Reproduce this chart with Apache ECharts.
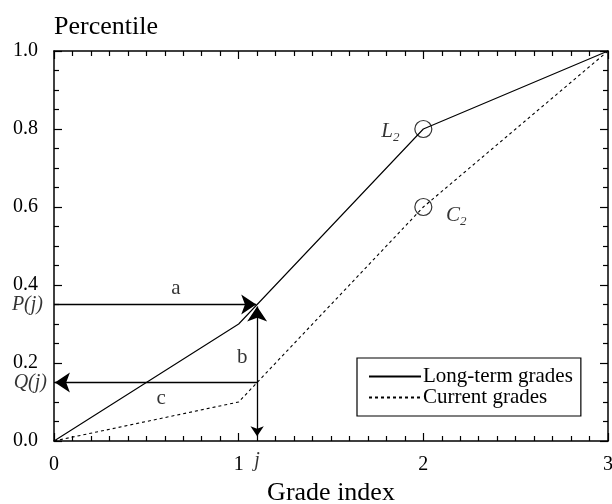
<!DOCTYPE html>
<html>
<head>
<meta charset="utf-8">
<script src="https://cdn.jsdelivr.net/npm/echarts@6/dist/echarts.min.js"></script>
<style>html,body{margin:0;padding:0;background:#fff}#c{width:612px;height:504px}</style>
</head>
<body>
<div id="c"></div>
<script>
// ---- data ----
var gradeIndex = [0, 1, 2, 3];
var longTerm = [0, 0.3, 0.8, 1.0];
var current = [0, 0.1, 0.6, 1.0];
var jValue = 1.1;
var pj = 0.35;
var qj = 0.15;
var circlePoints = [[2, 0.8], [2, 0.6]];
var yTicks = [0, 0.2, 0.4, 0.6, 0.8, 1.0];
var xTicks = [0, 1, 2, 3];
// arrows: [x1, y1, x2, y2, headAtStart, headAtEnd]
var arrows = [
  [0, pj, 1.095, pj, false, true],
  [jValue, qj, 0.005, qj, false, true],
  [jValue, 0.012, jValue, 0.345, true, true]
];
// text annotations: [x, y, text]
var letterLabels = [[0.66, 0.39, 'a'], [1.02, 0.215, 'b'], [0.58, 0.108, 'c']];

var FONT = "'Liberation Serif','Times New Roman',serif";
var chart = echarts.init(document.getElementById('c'));

function pairs(xs, ys) { return xs.map(function (x, i) { return [x, ys[i]]; }); }

var axisCommon = {
  min: 0,
  axisLine: { show: true, onZero: false, lineStyle: { color: '#000', width: 1.5 } },
  axisTick: { show: true, inside: true, length: 8, lineStyle: { color: '#000', width: 1.2 } },
  minorTick: { show: true, length: 5, lineStyle: { color: '#000', width: 1.2 } },
  splitLine: { show: false },
  minorSplitLine: { show: false }
};

function xAxisDef(pos, showLabels) {
  return Object.assign({}, axisCommon, {
    type: 'value', position: pos, max: 3, interval: 1,
    minorTick: Object.assign({}, axisCommon.minorTick, { splitNumber: 10 }),
    axisLabel: { show: showLabels, margin: 14, color: '#000', fontFamily: FONT, fontSize: 20,
      formatter: function (v) { return xTicks.indexOf(v) >= 0 ? String(v) : ''; } },
    name: showLabels ? 'Grade index' : '',
    nameLocation: 'middle', nameGap: 52,
    nameTextStyle: { color: '#000', fontFamily: FONT, fontSize: 26, verticalAlign: 'middle' }
  });
}
function yAxisDef(pos, showLabels) {
  return Object.assign({}, axisCommon, {
    type: 'value', position: pos, max: 1, interval: 0.2,
    minorTick: Object.assign({}, axisCommon.minorTick, { splitNumber: 4 }),
    axisLabel: { show: showLabels, margin: 16, color: '#000', fontFamily: FONT, fontSize: 20,
      formatter: function (v) { return v.toFixed(1); } },
    name: showLabels ? 'Percentile' : '',
    nameLocation: 'end', nameGap: 24,
    nameTextStyle: { color: '#000', fontFamily: FONT, fontSize: 26, align: 'left', verticalAlign: 'middle' }
  });
}

var arrowData = arrows.map(function (a) {
  return {
    coords: [[a[0], a[1]], [a[2], a[3]]],
    symbol: [a[4] ? 'arrow' : 'none', a[5] ? 'arrow' : 'none']
  };
});

var option = {
  animation: false,
  backgroundColor: '#fff',
  grid: { left: 54, right: 4, top: 51, bottom: 63, containLabel: false, outerBoundsMode: 'none' },
  xAxis: [xAxisDef('bottom', true), xAxisDef('top', false)],
  yAxis: [yAxisDef('left', true), yAxisDef('right', false)],
  legend: {
    orient: 'vertical', left: 357, top: 358,
    backgroundColor: '#fff',
    borderColor: '#000', borderWidth: 1.2, borderRadius: 0,
    padding: [8, 8, 8, 11],
    itemWidth: 52, itemHeight: 14, itemGap: 0,
    itemStyle: { opacity: 0 },
    textStyle: { color: '#000', fontFamily: FONT, fontSize: 21, lineHeight: 20, padding: [0, 0, 0, -3] },
    data: ['Long-term grades', 'Current grades']
  },
  series: [
    {
      name: 'Long-term grades', type: 'line', data: pairs(gradeIndex, longTerm),
      symbol: 'none', lineStyle: { color: '#000', width: 1.1, type: 'solid' },
      itemStyle: { color: '#000' }, z: 3
    },
    {
      name: 'Current grades', type: 'line', data: pairs(gradeIndex, current),
      symbol: 'none', lineStyle: { color: '#000', width: 1.1, type: [3, 3] },
      itemStyle: { color: '#000' }, z: 3
    },
    {
      type: 'lines', coordinateSystem: 'cartesian2d', data: arrowData,
      symbolSize: [10, 15],
      lineStyle: { color: '#000', width: 1.3, opacity: 1 },
      itemStyle: { color: '#000' }, z: 4
    },
    {
      type: 'scatter', data: circlePoints, symbol: 'circle', symbolSize: 17,
      itemStyle: { color: 'rgba(0,0,0,0)', borderColor: '#000', borderWidth: 1.2 },
      label: {
        show: true, color: '#000', fontFamily: FONT,
        formatter: function (p) { return p.dataIndex === 0 ? '{i|L}{s|2}' : '{i|C}{s|2}'; },
        rich: {
          i: { fontFamily: FONT, fontStyle: 'italic', fontSize: 21, color: '#000' },
          s: { fontFamily: FONT, fontStyle: 'italic', fontSize: 13, color: '#000', padding: [14, 0, 0, 0] }
        }
      },
      labelLayout: function (p) {
        return p.dataIndex === 0 ? { dx: -33, dy: 2 } : { dx: 33, dy: 8 };
      },
      silent: true, z: 5
    },
    {
      type: 'scatter', data: letterLabels.map(function (d) { return [d[0], d[1], d[2]]; }),
      symbolSize: 0,
      label: { show: true, position: 'inside', color: '#000', fontFamily: FONT, fontSize: 21,
        formatter: function (p) { return p.value[2]; } },
      silent: true, z: 5
    },
    {
      type: 'scatter',
      data: [[0, pj, 'P(j)'], [0, qj, 'Q(j)'], [jValue, 0, 'j']],
      symbolSize: 0, clip: false,
      label: { show: true, color: '#000', fontFamily: FONT, fontSize: 20, fontStyle: 'italic',
        formatter: function (p) { return p.value[2]; } },
      labelLayout: function (p) {
        if (p.dataIndex === 0) return { x: 43, align: 'right', verticalAlign: 'middle' };
        if (p.dataIndex === 1) return { x: 47, align: 'right', verticalAlign: 'middle' };
        return { dy: 20, dx: 0, align: 'center', verticalAlign: 'middle' };
      },
      silent: true, z: 5
    }
  ]
};
chart.setOption(option);
</script>
</body>
</html>
